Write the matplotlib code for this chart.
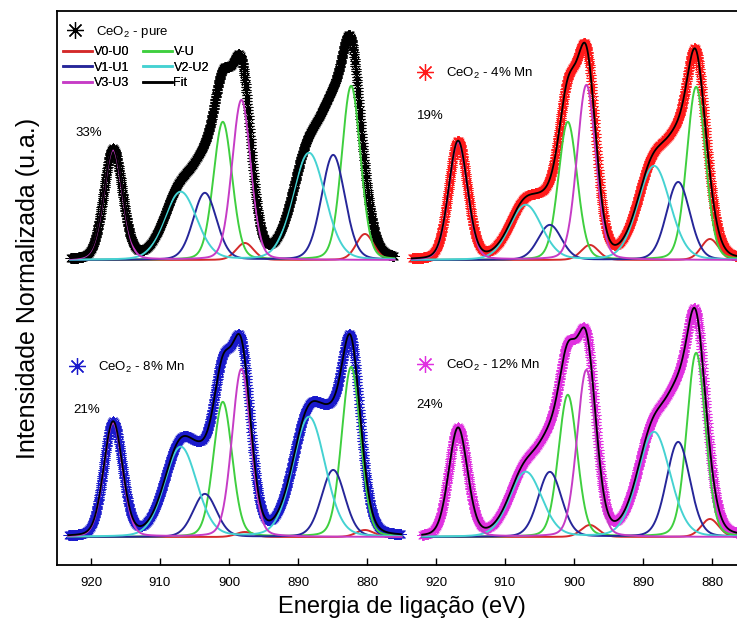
import matplotlib.pyplot as plt
import numpy as np
from matplotlib.lines import Line2D

plt.rcParams['font.family'] = ['Liberation Sans', 'DejaVu Sans']
plt.rcParams['mathtext.fontset'] = 'custom'
plt.rcParams['mathtext.rm'] = 'Liberation Sans'

# tick labels along the bottom (two panels side by side, 925 -> 875 eV each)
tick_energies = [920, 910, 900, 890, 880, 920, 910, 900, 890, 880]

component_names = ["V0-U0", "V-U", "V1-U1", "V2-U2", "V3-U3"]
component_colors = ["#d42a2a", "#3fcf3f", "#262699", "#45d2d2", "#c63cc6"]
# peak centres (eV) of each doublet
centre_hi = [897.7, 900.9, 903.5, 907.0, 916.8]
centre_lo = [880.3, 882.3, 884.9, 888.4, 898.2]
fwhm = [3.0, 3.2, 4.0, 5.5, 3.2]

samples = ["CeO$_2$ - pure", "CeO$_2$ - 4% Mn", "CeO$_2$ - 8% Mn", "CeO$_2$ - 12% Mn"]
percent = ["33%", "19%", "21%", "24%"]
data_colors = ["black", "#ff1a1a", "#1a1acc", "#e030e0"]
# peak heights above the baseline, one list per sample (same order as components)
height_hi = [[17, 138, 67, 68, 110],
             [15, 138, 35, 55, 118],
             [5, 135, 43, 90, 114],
             [12, 142, 65, 65, 108]]
height_lo = [[26, 174, 105, 107, 160],
             [21, 173, 78, 94, 175],
             [7, 170, 67, 120, 168],
             [18, 184, 95, 105, 167]]
e_start = [923.0, 923.5, 923.3, 922.0]
e_end = [876.0, 875.0, 875.0, 875.0]

# layout of the four panels inside the single frame
col_shift = [925, 975, 925, 975]   # position = shift - energy
baseline = [305, 305, 28, 28]
label_pos = [(0.0172, 0.962), (0.5245, 0.888), (0.0201, 0.357), (0.5245, 0.361)]
pct_pos = [(2.7, 432), (52.2, 449), (2.4, 155), (52.2, 160)]


def peak(e, c, h, w):
    g = np.exp(-4 * np.log(2) * (e - c) ** 2 / w ** 2)
    l = 1 / (1 + 4 * (e - c) ** 2 / w ** 2)
    return h * (0.85 * g + 0.15 * l)


fig = plt.figure(figsize=(7.37, 6.27), dpi=100)
ax = fig.add_axes([56.5 / 737, 62 / 627, 690 / 737, 554 / 627])

for i in range(4):
    e = np.arange(e_start[i], e_end[i], -0.04)
    x = col_shift[i] - e
    total = np.zeros_like(e)
    comps = []
    for k in range(5):
        y = peak(e, centre_hi[k], height_hi[i][k], fwhm[k]) + peak(e, centre_lo[k], height_lo[i][k], fwhm[k])
        comps.append(y)
        total += y
    ax.plot(x, baseline[i] + total, ls='none', marker=(8, 2, 0), ms=7.5, mew=0.35,
            color=data_colors[i], zorder=1)
    for k in range(5):
        ax.plot(x, baseline[i] + comps[k], color=component_colors[k], lw=1.4, zorder=2)
    ax.plot(x, baseline[i] + total, color='black', lw=1.3, zorder=3)

    leg = ax.legend(handles=[Line2D([], [], ls='none', marker=(8, 2, 0), ms=12, mew=0.9,
                                    color=data_colors[i])],
                    labels=[samples[i]], loc='center left', bbox_to_anchor=label_pos[i],
                    frameon=False, fontsize=9.5, handlelength=1.0, handletextpad=1.1,
                    borderpad=0, borderaxespad=0)
    ax.add_artist(leg)
    ax.text(pct_pos[i][0], pct_pos[i][1], percent[i], fontsize=9.5, va='center', ha='left')

# component legend (only in the first panel)
handles = [Line2D([], [], color=component_colors[k], lw=1.8) for k in range(5)]
handles.append(Line2D([], [], color='black', lw=1.8))
names = component_names + ["Fit"]
order = [0, 2, 4, 1, 3, 5]
leg = ax.legend(handles=[handles[j] for j in order], labels=[names[j] for j in order],
                ncol=2, loc='upper left', bbox_to_anchor=(0.0094, 0.937), frameon=False,
                fontsize=9, handlelength=2.3, handletextpad=0.15, columnspacing=1.1,
                labelspacing=0.3, borderpad=0, borderaxespad=0)
ax.add_artist(leg)

ax.set_xlim(0, 100)
ax.set_ylim(0, 554)
tick_pos = [col_shift[0] - t for t in tick_energies[:5]] + [col_shift[1] - t for t in tick_energies[5:]]
ax.set_xticks(tick_pos)
ax.set_xticklabels([str(t) for t in tick_energies], fontsize=9.5)
ax.set_yticks([])
ax.tick_params(axis='x', direction='in', length=5, width=1, pad=9)
for s in ax.spines.values():
    s.set_linewidth(1.3)

ax.set_xlabel("Energia de ligação (eV)", fontsize=17, labelpad=5)
ax.set_ylabel("Intensidade Normalizada (u.a.)", fontsize=18, labelpad=12)

fig.savefig("out.png", dpi=100)
